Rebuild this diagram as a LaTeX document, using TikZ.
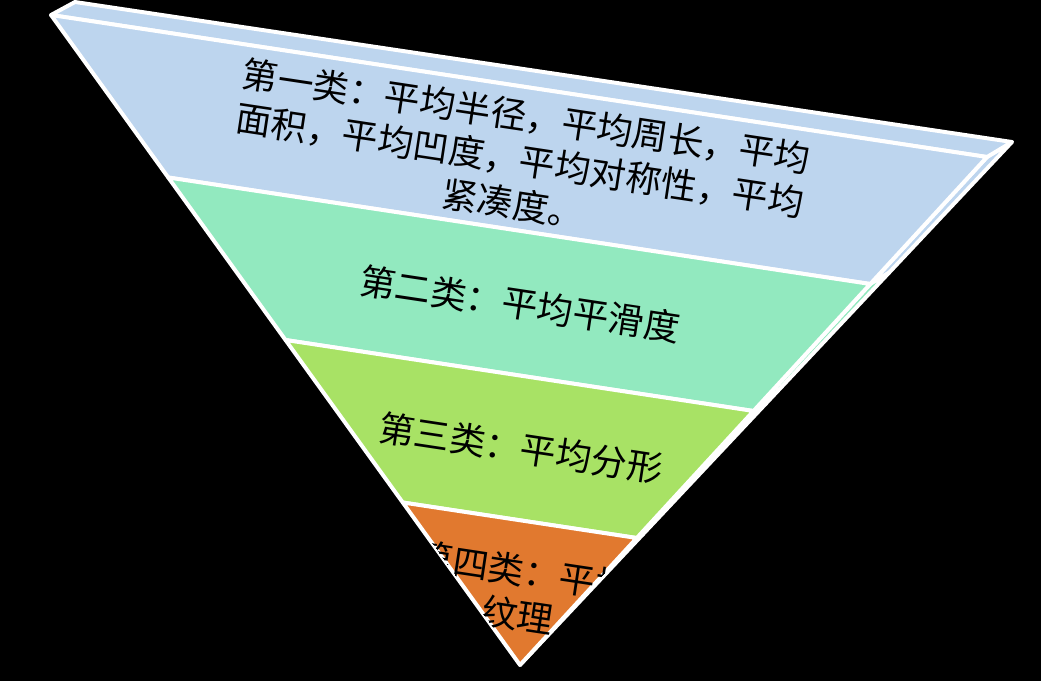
\documentclass[tikz,border=0pt]{standalone}
\usepackage{fontspec}
\newfontfamily\cjk{Noto Sans CJK SC}
\usetikzlibrary{calc}
\definecolor{layerblue}{RGB}{189,213,238}
\definecolor{layermint}{RGB}{146,233,191}
\definecolor{layergreen}{RGB}{168,226,101}
\definecolor{layerorange}{RGB}{225,121,47}

\begin{document}
\begin{tikzpicture}[x=0.025cm, y=-0.025cm,
        band/.style={draw=white, line width=2.8pt, line join=round},
        every node/.style={font=\cjk\fontsize{25.5}{31.5}\selectfont, align=center, rotate=-8.6, inner sep=0pt}
      ]
        \fill[black] (0,0) rectangle (1041,681);
        \useasboundingbox (0,0) rectangle (1041,681);
        \coordinate (fl) at (51,15);
        \coordinate (bl) at (75,2);
        \coordinate (br) at (1012,142);
        \coordinate (fr) at (987,157);
        \coordinate (apex) at (520,665);
        \foreach \i/\f in {1/0.25, 2/0.5, 3/0.75} {
          \coordinate (l\i) at ($(fl)!\f!(apex)$);
          \coordinate (r\i) at ($(fr)!\f!(apex)$);
          \coordinate (s\i) at ($(br)!\f!(apex)$);
        }
        \filldraw[band, fill=layerblue] (fr) -- (br) -- (s1) -- (r1) -- cycle;
        \filldraw[band, fill=layermint] (r1) -- (s1) -- (s2) -- (r2) -- cycle;
        \filldraw[band, fill=layergreen] (r2) -- (s2) -- (s3) -- (r3) -- cycle;
        \filldraw[band, fill=layerorange] (r3) -- (s3) -- (apex) -- cycle;
        \filldraw[band, fill=layerblue] (fl) -- (bl) -- (br) -- (fr) -- cycle;
        \filldraw[band, fill=layerblue] (fl) -- (fr) -- (r1) -- (l1) -- cycle;
        \filldraw[band, fill=layermint] (l1) -- (r1) -- (r2) -- (l2) -- cycle;
        \filldraw[band, fill=layergreen] (l2) -- (r2) -- (r3) -- (l3) -- cycle;
        \filldraw[band, fill=layerorange] (l3) -- (r3) -- (apex) -- cycle;
        \node (shape) at (520,160) {第一类：平均半径，平均周长，平均\\面积，平均凹度，平均对称性，平均\\紧凑度。};
        \node (smooth) at (520,304) {第二类：平均平滑度};
        \node (fractal) at (521,448) {第三类：平均分形};
        \begin{scope}
          \clip (l3) -- (r3) -- (apex) -- cycle;
          \node (texture) at (521,593) {第四类：平均\\纹理};
        \end{scope}
      \end{tikzpicture}
\end{document}
